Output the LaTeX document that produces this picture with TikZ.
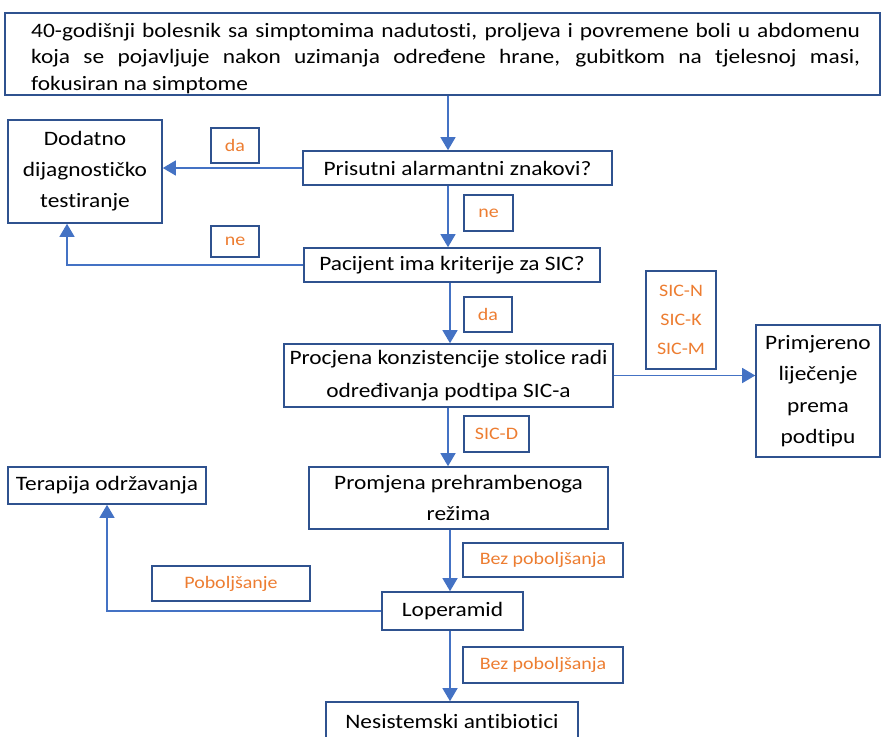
\documentclass[tikz,border=0pt]{standalone}
\usepackage{fontspec}
\setmainfont[FakeStretch=1.14,Ligatures=NoCommon]{Carlito}
\usetikzlibrary{arrows.meta}
\definecolor{bdr}{RGB}{47,82,143}
\definecolor{lnk}{RGB}{68,114,196}
\definecolor{org}{RGB}{237,125,49}
\tikzset{
  box/.style={draw=bdr, line width=1.6pt, fill=white, inner sep=0pt, align=center, font=\fontsize{20.5}{31}\selectfont},
  lbl/.style={draw=bdr, line width=1.6pt, fill=white, inner sep=0pt, align=center, text=org, font=\fontsize{17.5}{29}\selectfont},
  conn/.style={draw=lnk, line width=1.3pt},
  arr/.style={conn, -{Triangle[width=15pt,length=13pt]}}
}
\begin{document}
\begin{tikzpicture}[x=1pt,y=-1pt]
\useasboundingbox (0,0) rectangle (882,736);
\clip (0,0) rectangle (882,736);
% main boxes
\node[box, minimum width=875pt, minimum height=82pt] (top) at (442.5,54) {};
\node[text width=829pt, align=justify, inner sep=0pt, font=\fontsize{20.5}{26.5}\selectfont, anchor=north west] (toptext) at (31,23)
 {40-godišnji bolesnik sa simptomima nadutosti, proljeva i povremene boli u abdomenu\linebreak koja se pojavljuje nakon uzimanja određene hrane, gubitkom na tjelesnoj masi,\linebreak fokusiran na simptome};
\node[box, minimum width=309pt, minimum height=34pt] (pris) at (457.5,168) {Prisutni alarmantni znakovi?};
\node[box, minimum width=154pt, minimum height=103pt] (dod) at (85,171.5) {Dodatno\\dijagnostičko\\testiranje};
\node[box, minimum width=296pt, minimum height=34pt] (pac) at (452,265) {Pacijent ima kriterije za SIC?};
\node[box, minimum width=329pt, minimum height=63pt, font=\fontsize{20.5}{33}\selectfont] (proc) at (448.5,375.5) {Procjena konzistencije stolice radi\\određivanja podtipa SIC-a};
\node[box, minimum width=124pt, minimum height=132pt, font=\fontsize{20.5}{31.5}\selectfont] (prim) at (818,391) {Primjereno\\liječenje\\prema\\podtipu};
\node[box, minimum width=299pt, minimum height=62pt] (prom) at (458.5,498) {Promjena prehrambenoga\\režima};
\node[box, minimum width=198pt, minimum height=37pt] (ter) at (107,485.5) {Terapija održavanja};
\node[box, minimum width=141pt, minimum height=38pt] (lop) at (452.5,611) {Loperamid};
\node[box, minimum width=252pt, minimum height=46pt] (nes) at (452,725) {};
\node[font=\fontsize{20.5}{24}\selectfont, anchor=base] (nestext) at (452,728) {Nesistemski antibiotici};
% coordinates for vertical trunk
\coordinate (ax) at (448,0);
\coordinate (bx) at (450,0);
\coordinate (dx) at (67,0);
\coordinate (tx) at (107,0);
% connectors
\draw[arr] (top.south -| ax) -- (pris.north -| ax);
\draw[arr] (pris.west) -- (dod.east |- pris.west);
\draw[arr] (pris.south -| ax) -- (pac.north -| ax);
\draw[arr] (pac.west) -| (dod.south -| dx);
\draw[arr] (pac.south -| bx) -- (proc.north -| bx);
\draw[arr] (proc.east) -- (prim.west |- proc.east);
\draw[arr] (proc.south -| ax) -- (prom.north -| ax);
\draw[arr] (prom.south -| bx) -- (lop.north -| bx);
\draw[arr] (lop.west) -| (ter.south -| tx);
\draw[arr] (lop.south -| bx) -- (nes.north -| bx);
% labels
\node[lbl, minimum width=48pt, minimum height=35pt] (da1) at (235,145.5) {da};
\node[lbl, minimum width=49pt, minimum height=36pt] (ne1) at (488.5,213) {ne};
\node[lbl, minimum width=48pt, minimum height=31pt] (ne2) at (235,241.5) {ne};
\node[lbl, minimum width=48pt, minimum height=35pt] (da2) at (488,314.5) {da};
\node[lbl, minimum width=70pt, minimum height=98pt] (sic) at (681,320) {SIC-N\\SIC-K\\SIC-M};
\node[lbl, minimum width=65pt, minimum height=36pt] (sicd) at (496.5,434) {SIC-D};
\node[lbl, minimum width=160pt, minimum height=34pt] (bez1) at (543,560) {Bez poboljšanja};
\node[lbl, minimum width=158pt, minimum height=35pt] (pob) at (231,583.5) {Poboljšanje};
\node[lbl, minimum width=160pt, minimum height=36pt] (bez2) at (543,665) {Bez poboljšanja};
\end{tikzpicture}
\end{document}
